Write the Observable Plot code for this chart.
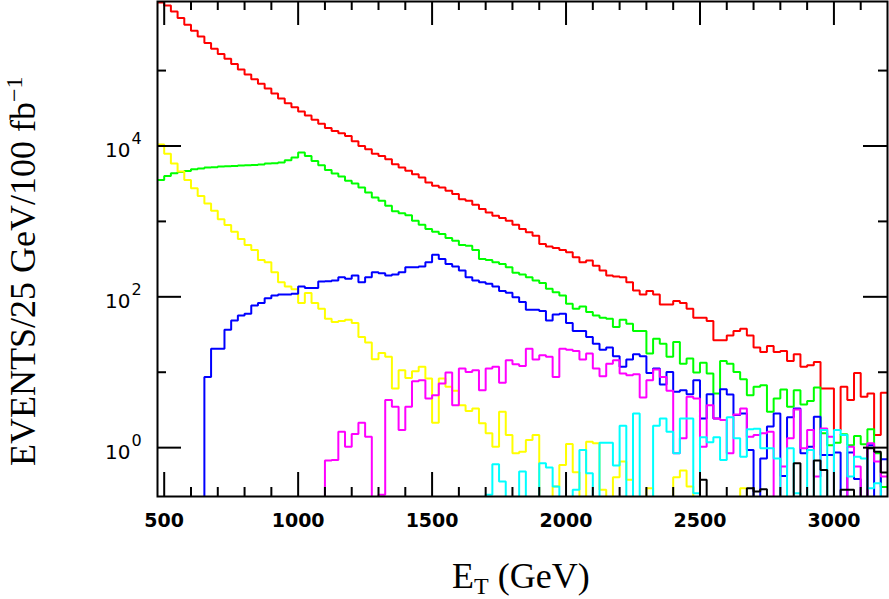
<!DOCTYPE html>
<html><head><meta charset="utf-8">
<script src="https://cdn.jsdelivr.net/npm/d3@7"></script>
<script src="https://cdn.jsdelivr.net/npm/@observablehq/plot@0.6"></script>
<style>body{margin:0;background:#fff}#chart{width:889px;height:599px}</style>
</head><body><div id="chart"></div>
<script>
// Bins of 25 GeV; each series lists its bin contents from its first bin edge.
const BIN = 25;
const X_MIN = 475, X_MAX = 3200;

const redStart = 475;
const red = [8.0e5,7.3e5,6.08e5,4.97e5,4.06e5,3.38e5,2.84e5,2.32e5,1.95e5,1.66e5,
 1.43e5,1.22e5,1.03e5,8.85e4,7.68e4,6.67e4,5.78e4,4.97e4,4.27e4,3.70e4,
 3.27e4,2.87e4,2.54e4,2.23e4,1.97e4,1.73e4,1.58e4,1.47e4,1.36e4,1.16e4,
 1.0e4,9040,7920,7380,6670,5720,5170,4680,4220,3810,
 3280,2960,2810,2540,2300,1970,1880,1660,1460,1310,
 1190,1110,1020,904,792,716,647,501,463,444,
 418,389,334,287,302,259,223,191,186,182,
 156,121,107,119,107,79.2,79.2,87.7,82.5,69.4,
 52.8,52.8,47.7,26.5,26.5,30.8,35.2,37.8,30.8,21.2,
 18.6,22.3,18.6,19.1,14.1,17.3,11.8,12.4,13.7,6.08,
 6.08,1.71,6.40,4.27,9.80,4.72,5.22,1.47,5.33];

const greenStart = 475;
const green = [3550,4010,4350,4530,4670,4920,5020,5170,5220,5330,
 5390,5440,5500,5550,5610,5670,5840,5900,6020,6470,
 7010,8170,7380,6340,5550,4820,4310,3930,3450,3180,
 2810,2420,2080,1880,1610,1360,1280,1210,1020,904,
 792,730,680,602,555,487,477,418,318,308,
 287,273,247,208,197,182,164,152,128,115,
 104,80.8,69.4,74.5,62.7,56.6,52.8,51.2,39.7,49.7,
 44.0,35.2,35.2,17.7,27.9,23.9,16.0,25.2,13.0,15.2,
 9.9,13.4,9.6,5.22,14.1,13.0,10.1,8.08,4.97,6.40,
 6.73,2.99,4.49,5.90,3.48,5.78,3.74,4.14,6.27,1.55,
 1.08,1.16,1.50,1.08,1.43,1.11,1.76,0.84,0.30];

const yellowStart = 475;
const yellow = [1.05e4,7920,5840,4580,3550,2760,2180,1730,1380,1070,
 895,730,584,487,418,308,287,212,156,137,
 126,82.5,112,82.5,69.4,51.2,46.3,47.7,49.7,44.9,
 29.3,24.7,14.9,18.0,16.0,6.08,10.6,8.41,10.3,11.8,
 8.25,2.14,8.25,6.40,5.67,3.66,3.05,3.31,2.10,1.55,
 1.03,2.99,1.47,0.84,0.885,1.26,1.47,0,0,0.305,
 0.59,1.12,0.47,0,1.20,1.14,0.276,0,0.405,0.653,
 0.374,0,0,0.29,0,0,0,0.405,0.497,0.305,
 0,0,0,0,0,0,0,0.29,0,0];

const blueStart = 650;
const blue = [8.67,20.5,20.5,36.6,48.7,56.6,59.6,76.8,82.5,96.0,
 104,107,107,110,137,131,131,160,161,164,
 182,173,191,156,182,212,206,191,197,212,
 247,247,252,287,362,318,273,252,223,182,
 164,156,149,137,119,113,99,85.1,67.3,67.3,
 64.7,48.7,58.4,59.6,44.9,35.2,35.2,29.3,23.9,19.9,
 21.2,16.3,11.8,14.7,17.3,16.3,9.8,11.2,6.87,10.1,
 5.50,5.78,5.12,7.84,2.44,5.12,2.44,5.96,5.07,2.70,
 2.84,0.93,0,0.72,1.90,2.84,0.42,2.52,3.31,0.84,
 1.03,2.57,0.80,0.80,0.86,0,0.86,0.385,0,1.08,
 0,0.70];

const magentaStart = 1100;
const magenta = [0.673,0.687,1.63,1.03,1.52,2.14,1.40,0,0.237,4.27,
 3.48,1.71,3.48,7.6,7.84,4.49,4.97,7.08,9.9,3.66,
 11.2,10.1,10.6,5.78,11.2,11.8,7.23,14.4,12.8,12.1,
 20.5,14.7,16.8,16.0,8.67,20.5,19.9,19.1,14.7,17.7,
 11.2,8.85,13.0,14.4,9.6,9.13,9.4,4.62,7.84,10.9,
 8.67,5.67,0.84,1.33,4.72,4.49,1.03,3.66,2.44,2.32,
 0.84,2.76,3.31,1.40,1.47,1.55,1.63,0,0.561,1.33,
 3.21,0.98,1.71,0.414,1.80,1.40,0,0,1.03,0.561,
 0,1.14,0.653,0.414];

const cyanStart = 1700;
const cyan = [0.237,0.602,0.355,0,0,0.482,0,0,0.62,0.544,
 0.305,0,0,0.276,0.93,0.458,0,1.16,1.16,0.578,
 1.95,0,2.84,0,0,1.95,2.44,1.63,0.84,2.44,
 2.44,0.249,1.37,1.18,1.37,0.687,2.52,1.33,0.76,1.75,
 1.78,0.98,0.98,0.72,0,0.98,0.249,0,0.93,0,
 1.71,0,1.71,1.47,0.414,0.76,0.72,0.29,0.338,0];

const blackStart = 2500;
const black = [0.374,0,0,0,0,0,0,0.29,0.262,0.281,
 0,0,0,0,0.62,0,0,0.673,0.507,0,
 0,0.276,0.276,0,0,0.98,0.885,0.468];

const xMajor = [500,1000,1500,2000,2500,3000];
const xMinor = [600,700,800,900,1100,1200,1300,1400,1600,1700,1800,1900,2100,2200,2300,2400,2600,2700,2800,2900,3100];
const yMajor = [1,100,10000];
const yMajorExp = ["0","2","4"];
const yMinor = [10,1000,100000];

const series = [
  {start: redStart, values: red, color: "#ff0000"},
  {start: greenStart, values: green, color: "#00ff00"},
  {start: yellowStart, values: yellow, color: "#ffff00"},
  {start: blueStart, values: blue, color: "#0000ff"},
  {start: magentaStart, values: magenta, color: "#ff00ff"},
  {start: cyanStart, values: cyan, color: "#00ffff"},
  {start: blackStart, values: black, color: "#000000"}
];

const FLOOR = 0.02; // empty bins fall below the axis
function steps(s) {
  const pts = [];
  if (s.start > X_MIN) pts.push({x: s.start, y: FLOOR});
  s.values.forEach((v, i) => pts.push({x: s.start + i * BIN, y: v > 0 ? v : FLOOR}));
  const last = s.values[s.values.length - 1];
  pts.push({x: s.start + s.values.length * BIN, y: last > 0 ? last : FLOOR});
  return pts;
}

const W = 889, H = 599, ML = 157, MR = 2, MT = 1, MB = 103;
const FH = H - MT - MB, FW = W - ML - MR;
const MAJ = 24, MIN = 9;

const lineMarks = series.map(s => Plot.line(steps(s), {
  x: "x", y: "y", curve: "step-after", stroke: s.color, strokeWidth: 2,
  strokeLinejoin: "miter", strokeLinecap: "butt", clip: true
}));

const tickStyle = {stroke: "black", strokeWidth: 2};
const plot = Plot.plot({
  width: W, height: H,
  marginLeft: ML, marginRight: MR, marginTop: MT, marginBottom: MB,
  x: {domain: [X_MIN, X_MAX], axis: null},
  y: {type: "log", domain: [0.225, 8.24e5], axis: null},
  style: {background: "white"},
  marks: [
    ...lineMarks,
    Plot.tickX(xMajor, {...tickStyle, insetBottom: FH - MAJ}),
    Plot.tickX(xMajor, {...tickStyle, insetTop: FH - MAJ}),
    Plot.tickX(xMinor, {...tickStyle, insetBottom: FH - MIN}),
    Plot.tickX(xMinor, {...tickStyle, insetTop: FH - MIN}),
    Plot.tickY(yMajor, {...tickStyle, insetRight: FW - MAJ}),
    Plot.tickY(yMajor, {...tickStyle, insetLeft: FW - MAJ}),
    Plot.tickY(yMinor, {...tickStyle, insetRight: FW - MIN}),
    Plot.tickY(yMinor, {...tickStyle, insetLeft: FW - MIN}),
    Plot.frame({stroke: "black", strokeWidth: 2}),
    Plot.text(xMajor, {x: d => d, frameAnchor: "bottom", dy: 17, lineAnchor: "top",
      text: d => String(d), fontSize: 19, fontWeight: "bold", fontFamily: "DejaVu Sans", fill: "black"}),
    Plot.text(yMajor, {y: d => d, frameAnchor: "left", dx: -27, dy: 5, textAnchor: "end",
      text: () => "10", fontSize: 20, fontFamily: "DejaVu Sans", fill: "black"}),
    Plot.text(yMajor, {y: d => d, frameAnchor: "left", dx: -26, dy: -7, textAnchor: "start",
      text: (d, i) => yMajorExp[i], fontSize: 16, fontFamily: "DejaVu Sans", fill: "black"})
  ]
});
document.getElementById("chart").appendChild(plot);

// axis titles
const svg = d3.select(plot);
const yt = svg.append("text")
  .attr("transform", "translate(35,466) rotate(-90)")
  .attr("text-anchor", "start")
  .attr("font-family", "Liberation Serif").attr("font-size", 36).attr("fill", "black");
yt.append("tspan").text("EVENTS/25 GeV/100 fb");
yt.append("tspan").attr("dy", -13).attr("font-size", 24).text("\u22121");

const xt = svg.append("text")
  .attr("x", 452).attr("y", 588)
  .attr("text-anchor", "start")
  .attr("font-family", "Liberation Serif").attr("font-size", 36).attr("fill", "black");
xt.append("tspan").text("E");
xt.append("tspan").attr("dy", 6).attr("font-size", 24).text("T");
xt.append("tspan").attr("dy", -6).text(" (GeV)");
</script>
</body></html>
